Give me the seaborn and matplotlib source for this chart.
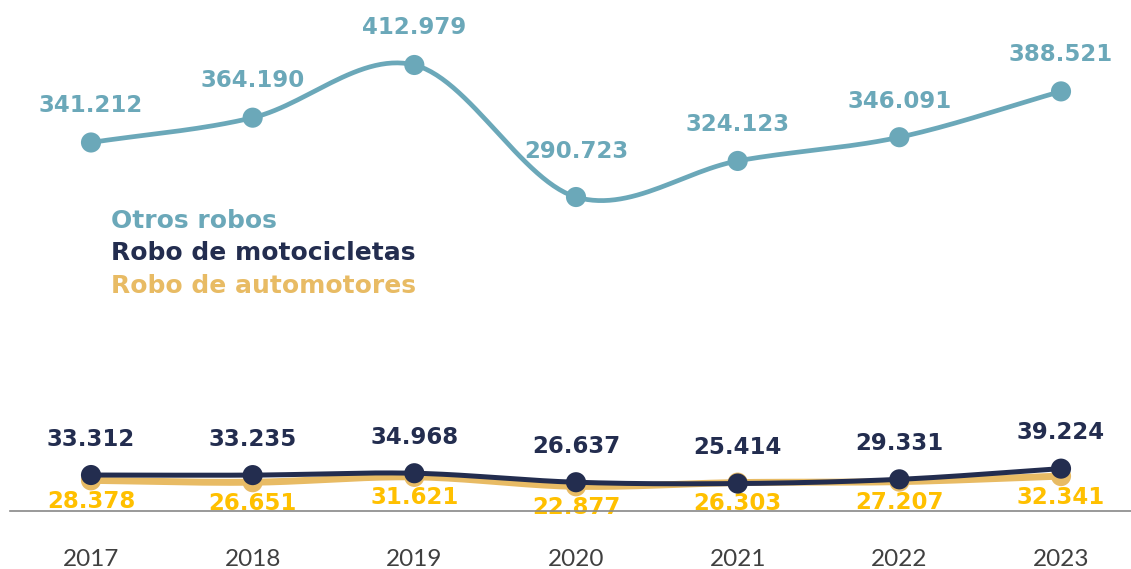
import numpy as np
import pandas as pd
import matplotlib.pyplot as plt
import seaborn as sns

years = [2017, 2018, 2019, 2020, 2021, 2022, 2023]
otros_robos = [341212, 364190, 412979, 290723, 324123, 346091, 388521]
robo_motos = [33312, 33235, 34968, 26637, 25414, 29331, 39224]
robo_autos = [28378, 26651, 31621, 22877, 26303, 27207, 32341]

series_names = ["Otros robos", "Robo de motocicletas", "Robo de automotores"]

C_OTROS = "#6ba8b9"
C_MOTOS = "#232d4f"
C_AUTOS = "#e8bb64"
C_AUTOS_TXT = "#ffc000"


def smooth(x, y, n=30):
    # Catmull-Rom path through the points (like a spreadsheet "smoothed line")
    x = np.asarray(x, float)
    y = np.asarray(y, float)
    px = np.concatenate([[2 * x[0] - x[1]], x, [2 * x[-1] - x[-2]]])
    py = np.concatenate([[2 * y[0] - y[1]], y, [2 * y[-1] - y[-2]]])
    xs, ys = [], []
    t = np.linspace(0, 1, n)
    for i in range(1, len(px) - 2):
        for p, out in ((px, xs), (py, ys)):
            p0, p1, p2, p3 = p[i - 1], p[i], p[i + 1], p[i + 2]
            out.extend(0.5 * ((2 * p1) + (-p0 + p2) * t
                              + (2 * p0 - 5 * p1 + 4 * p2 - p3) * t ** 2
                              + (-p0 + 3 * p1 - 3 * p2 + p3) * t ** 3))
    return np.array(xs), np.array(ys)


sns.set_style("white")
plt.rcParams["font.family"] = ["Lato", "DejaVu Sans"]
BOLD = ["DejaVu Sans"]

fig = plt.figure(figsize=(11.31, 5.69), dpi=100)
ax = fig.add_axes([10 / 1131, 58 / 569, 1121 / 1131, 511 / 569])

df = pd.DataFrame({"year": years, "otros": otros_robos,
                   "motos": robo_motos, "autos": robo_autos})

for col, color, lw, z in [("autos", C_AUTOS, 5, 2), ("motos", C_MOTOS, 3.6, 3),
                          ("otros", C_OTROS, 3.4, 3)]:
    sx, sy = smooth(df["year"], df[col])
    sns.lineplot(x=sx, y=sy, color=color, linewidth=lw, ax=ax, zorder=z,
                 sort=False, estimator=None)
    sns.scatterplot(x=df["year"], y=df[col], color=color, s=210, ax=ax,
                    zorder=z + 0.5, edgecolor="none", linewidth=0)


def fmt(v):
    return f"{v:,}".replace(",", ".")


# the 2020 label of "Otros robos" sits a little higher, clear of the curve
otros_offsets = [37, 37, 37, 46, 36, 36, 37]

for x, v, off in zip(years, otros_robos, otros_offsets):
    ax.annotate(fmt(v), (x, v), xytext=(0, off), textcoords="offset pixels",
                ha="center", va="center", fontsize=16.5, fontweight="bold",
                family=BOLD, color=C_OTROS)
for x, v in zip(years, robo_motos):
    ax.annotate(fmt(v), (x, v), xytext=(0, 36), textcoords="offset pixels",
                ha="center", va="center", fontsize=16.5, fontweight="bold",
                family=BOLD, color=C_MOTOS)
for x, v in zip(years, robo_autos):
    ax.annotate(fmt(v), (x, v), xytext=(0, -21), textcoords="offset pixels",
                ha="center", va="center", fontsize=16.5, fontweight="bold",
                family=BOLD, color=C_AUTOS_TXT, zorder=1)

for i, (name, color) in enumerate(zip(series_names, [C_OTROS, C_MOTOS, C_AUTOS])):
    ax.text(101 / 1121, (511 - 221 - 32.5 * i) / 511, name, transform=ax.transAxes,
            ha="left", va="center", fontsize=18, fontweight="bold",
            family=BOLD, color=color)

px_per_unit = 0.00108
ax.set_ylim(0, 511 / px_per_unit)
ax.set_xlim(2017 - 81 / 161.67, 2023 + 70 / 161.67)
ax.set_xticks(years)
ax.set_xticklabels([str(y) for y in years], fontsize=17.5, color="#404040")
ax.tick_params(axis="x", length=0, pad=27)
ax.set_yticks([])
for s in ["top", "right", "left"]:
    ax.spines[s].set_visible(False)
ax.spines["bottom"].set_color("#888888")
ax.spines["bottom"].set_linewidth(1.2)
ax.set_xlabel("")
ax.set_ylabel("")

fig.savefig("out.png", dpi=100)
